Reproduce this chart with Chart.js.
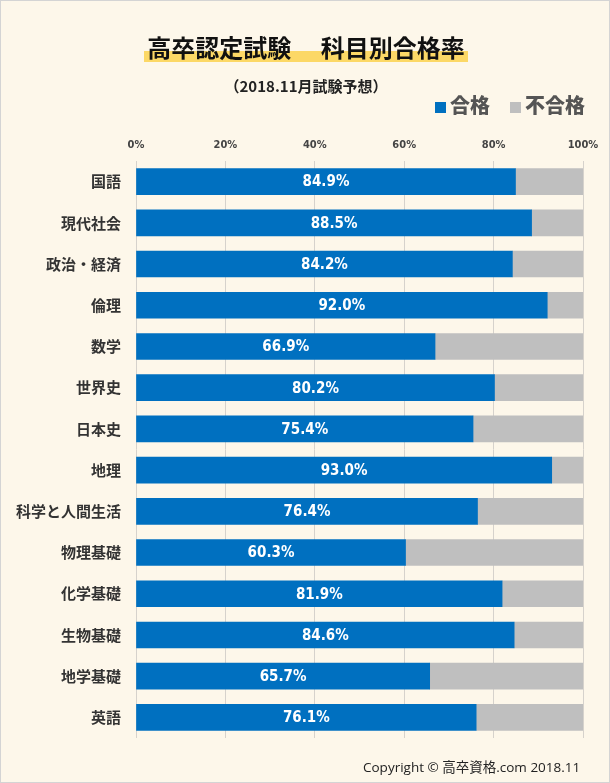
<!DOCTYPE html>
<html lang="ja">
<head>
<meta charset="utf-8">
<script src="https://cdn.jsdelivr.net/npm/chart.js@4"></script>
<style>
    html, body { margin: 0; padding: 0; }
    body { width: 610px; height: 783px; overflow: hidden; }
    .frame {
        position: relative; width: 608px; height: 781px;
        border: 1px solid #D4D4D4; background: #FDF7EA;
        font-family: "Noto Sans CJK JP", sans-serif;
    }
    .frame canvas { position: absolute; left: 0; top: 0; }
    .title {
        position: absolute; left: 0; width: 610px; top: 28px; text-align: center;
        font-size: 24px; font-weight: bold; color: #111; line-height: 36px;
    }
    .title span {
        padding: 0 3px;
        background: linear-gradient(to bottom, transparent 64%, #FCD866 64%, #FCD866 94%, transparent 94%);
    }
    .sub {
        position: absolute; left: 0; width: 610px; top: 74px; text-align: center;
        font-size: 15px; font-weight: bold; color: #222;
    }
    .legend {
        position: absolute; left: 434px; top: 89px; font-size: 20px; font-weight: bold; color: #555;
    }
    .legend i { display: inline-block; width: 11px; height: 11px; margin-right: 4px; }
    .legend b { margin-right: 20px; }
    .copy {
        position: absolute; left: 362px; top: 755px; font-size: 13.5px; color: #222;
        font-family: "Open Sans", "Noto Sans CJK JP", sans-serif;
    }
</style>
</head>
<body>
<div class="frame">
    <canvas id="chart" width="610" height="783"></canvas>
    <div class="title"><span>高卒認定試験　 科目別合格率</span></div>
    <div class="sub">（2018.11月試験予想）</div>
    <div class="legend"><i style="background:#0070C0"></i><b>合格</b><i style="background:#BFBFBF"></i><b>不合格</b></div>
    <div class="copy">Copyright © 高卒資格.com 2018.11</div>
</div>
<script>
// 科目別合格率（2018.11 予想）
const subjects = ['国語', '現代社会', '政治・経済', '倫理', '数学', '世界史', '日本史', '地理',
    '科学と人間生活', '物理基礎', '化学基礎', '生物基礎', '地学基礎', '英語'];
const passRates = [84.9, 88.5, 84.2, 92.0, 66.9, 80.2, 75.4, 93.0, 76.4, 60.3, 81.9, 84.6, 65.7, 76.1];
const failRates = [15.1, 11.5, 15.8, 8.0, 33.1, 19.8, 24.6, 7.0, 23.6, 39.7, 18.1, 15.4, 34.3, 23.9];
const tickValues = [0, 20, 40, 60, 80, 100];

const PASS_COLOR = '#0070C0';
const FAIL_COLOR = '#BFBFBF';

// 合格率の数値を青いバーの中に描く
const passLabels = {
    id: 'passLabels',
    afterDatasetsDraw(chart) {
        const { ctx } = chart;
        const meta = chart.getDatasetMeta(0);
        ctx.save();
        ctx.fillStyle = '#FFFFFF';
        ctx.font = 'bold 15px "DejaVu Sans Condensed", "Roboto", sans-serif';
        ctx.textAlign = 'center';
        ctx.textBaseline = 'middle';
        meta.data.forEach((bar, i) => {
            const x = (bar.base + bar.x) / 2;
            ctx.fillText(passRates[i].toFixed(1) + '%', x, bar.y + 1);
        });
        ctx.restore();
    },
};

new Chart(document.getElementById('chart'), {
    type: 'bar',
    data: {
        labels: subjects,
        datasets: [
            { label: '合格', data: passRates, backgroundColor: PASS_COLOR, barThickness: 26 },
            { label: '不合格', data: failRates, backgroundColor: FAIL_COLOR, barThickness: 26 },
        ],
    },
    options: {
        responsive: false,
        animation: false,
        indexAxis: 'y',
        layout: { padding: { left: 0, right: 28, top: 0, bottom: 46 } },
        plugins: { legend: { display: false }, tooltip: { enabled: false } },
        scales: {
            x: {
                position: 'top',
                stacked: true,
                min: 0,
                max: 100,
                afterBuildTicks: (scale) => { scale.ticks = tickValues.map((v) => ({ value: v })); },
                afterFit: (scale) => { scale.height = 160; },
                grid: { color: '#D6D2CC', drawTicks: false },
                border: { display: false },
                ticks: {
                    padding: 9,
                    color: '#444',
                    font: { family: '"DejaVu Sans Condensed", "Roboto", sans-serif', size: 11, weight: 'bold' },
                    callback: (v) => v + '%',
                },
            },
            y: {
                stacked: true,
                afterFit: (scale) => { scale.width = 135; },
                grid: { display: false },
                border: { display: false },
                ticks: {
                    padding: 7,
                    color: '#333',
                    font: { family: '"Noto Sans CJK JP", sans-serif', size: 15, weight: 'bold' },
                },
            },
        },
    },
    plugins: [passLabels],
});
</script>
</body>
</html>
